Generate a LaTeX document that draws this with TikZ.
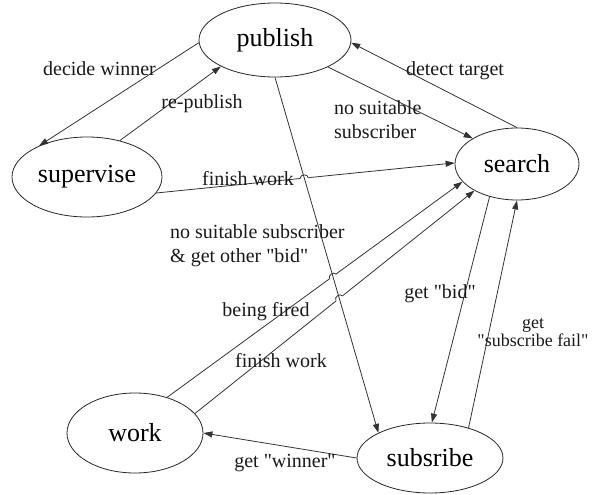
\documentclass[tikz,border=0pt]{standalone}
\usepackage{fontspec}
\setmainfont{Liberation Serif}[Ligatures=TeXOff]
\usetikzlibrary{shapes.geometric,arrows.meta,intersections,calc}
\begin{document}
\begin{tikzpicture}[x=1pt,y=1pt,
  state/.style={ellipse, draw=black!85, line width=0.8pt, inner sep=0pt, font=\fontsize{26}{28}\selectfont},
  lbl/.style={font=\fontsize{20}{23.5}\selectfont, inner sep=0pt, anchor=base, text=black!90},
  conn/.style={draw=black!80, line width=0.8pt, -{Triangle[length=9pt,width=6pt]}},
  plain/.style={draw=black!80, line width=0.8pt},
  eraser/.style={draw=white, line width=3pt},
  ]
\useasboundingbox (0,0) rectangle (597,-495);
% states
\node[state, minimum width=152pt, minimum height=74pt] (publish) at (275,-40) {publish};
\node[state, minimum width=150pt, minimum height=80pt] (supervise) at (87,-177) {supervise};
\node[state, minimum width=124pt, minimum height=72pt] (search) at (517,-164) {search};
\node[state, minimum width=136pt, minimum height=80pt] (work) at (135,-433) {work};
\node[state, minimum width=146pt, minimum height=70pt] (subsribe) at (430,-458) {subsribe};

% connectors without hops
\draw[conn] (publish.182) -- (supervise.147);
\draw[conn] (supervise.48) -- (publish.206);
\draw[conn] (publish.333) -- (search.150);
\draw[conn] (search.90) -- (publish.358);
\draw[conn] (search.230) -- (subsribe.87);
\draw[conn] (subsribe.38.5) -- (search.270);
\draw[conn] (subsribe.180) -- (work.0);

% connectors that hop over the publish -> subsribe line
\draw[conn, name path=fw] (supervise.347) -- (search.179);
\draw[conn, name path=bf] (work.48) -- (search.198);
\draw[conn, name path=fw2] (work.18) -- (search.212);
\path[name path=ps] (publish.270) -- (subsribe.154);
\path[name intersections={of=fw and ps, by=x1}];
\path[name intersections={of=bf and ps, by=x2}];
\path[name intersections={of=fw2 and ps, by=x3}];
\coordinate (h1a) at ($(x1)!4pt!(supervise.center)$);
\coordinate (h1b) at ($(x1)!4pt!(search.center)$);
\coordinate (h2a) at ($(x2)!4pt!(work.center)$);
\coordinate (h2b) at ($(x2)!4pt!(search.center)$);
\coordinate (h3a) at ($(x3)!4pt!(work.center)$);
\coordinate (h3b) at ($(x3)!4pt!(search.center)$);
\draw[eraser] (h1a) -- (h1b);
\draw[eraser] (h2a) -- (h2b);
\draw[eraser] (h3a) -- (h3b);
\draw[plain] (h1a) to[bend left=90, looseness=1.3] (h1b);
\draw[plain] (h2a) to[bend left=90, looseness=1.3] (h2b);
\draw[plain] (h3a) to[bend left=90, looseness=1.3] (h3b);
\draw[conn] (publish.270) -- (subsribe.154);

% labels
\node[lbl] (l1) at (99.5,-76) {decide winner};
\node[lbl] (l2) at (202,-108) {re-publish};
\node[lbl] (l3) at (248,-185) {finish work};
\node[lbl, align=left, anchor=base west] (l4) at (334,-138) {no suitable\\subscriber};
\node[lbl] (l5) at (455,-76) {detect target};
\node[lbl, align=left, anchor=base west] (l6) at (170,-262) {no suitable subscriber\\\& get other "bid"};
\node[lbl] (l7) at (266,-316) {being fired};
\node[lbl] (l8) at (281,-367) {finish work};
\node[lbl] (l9) at (440,-298) {get "bid"};
\node[lbl, align=center, font=\fontsize{18}{18}\selectfont] (l10) at (533,-346) {get\\"subscribe fail"};
\node[lbl] (l11) at (285,-467) {get "winner"};
\end{tikzpicture}
\end{document}
